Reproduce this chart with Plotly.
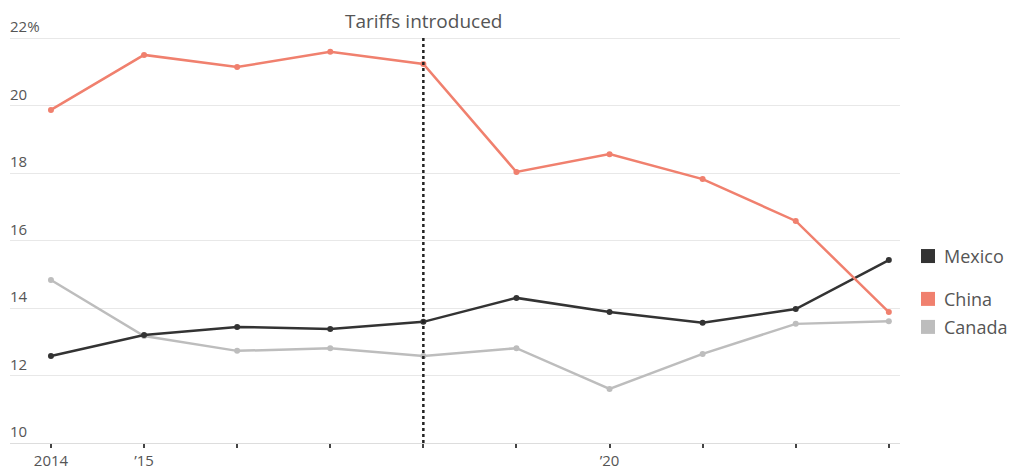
import plotly.graph_objects as go

years = [2014, 2015, 2016, 2017, 2018, 2019, 2020, 2021, 2022, 2023]
china = [19.87, 21.5, 21.14, 21.59, 21.23, 18.03, 18.56, 17.82, 16.58, 13.88]
mexico = [12.58, 13.2, 13.44, 13.38, 13.59, 14.3, 13.88, 13.56, 13.97, 15.42]
canada = [14.83, 13.17, 12.73, 12.81, 12.58, 12.81, 11.6, 12.64, 13.53, 13.61]
x_ticktext = ["2014", "’15", "", "", "", "", "’20", "", "", ""]
y_tickvals = [10, 12, 14, 16, 18, 20, 22]
y_ticktext = ["10", "12", "14", "16", "18", "20", "22%"]
tariff_year = 2018
tariff_label = "Tariffs introduced"

series = [
    ("Canada", canada, "#bdbdbd"),
    ("Mexico", mexico, "#333333"),
    ("China", china, "#f0806e"),
]
legend_items = [("Mexico", "#333333", 15.54), ("China", "#f0806e", 14.27), ("Canada", "#bdbdbd", 13.44)]

FONT = "Open Sans, Noto Sans, sans-serif"
TXT = "#555555"
# page body has an 8px margin; figure occupies 8..1017 x 8..476
OFF = 8
W, H = 1017 - OFF, 476 - OFF
ML, MR, MT, MB = 10 - OFF, 117, 35 - OFF, 33
plot_w = W - ML - MR
y_range = [10, 22.09]
px_per_unit = (H - MT - MB) / (y_range[1] - y_range[0])


def page_x_to_paper(px):
    return (px - OFF - ML) / plot_w


fig = go.Figure()
for name, vals, col in series:
    fig.add_trace(go.Scatter(
        x=years, y=vals, name=name, mode="lines+markers",
        line=dict(color=col, width=2.5),
        marker=dict(color=col, size=6),
        showlegend=False, cliponaxis=False,
    ))

fig.add_shape(type="line", xref="x", yref="paper", x0=tariff_year, x1=tariff_year,
              y0=0, y1=1.0, line=dict(color="#222222", width=2.5, dash="dot"))
fig.add_annotation(x=tariff_year, xref="x", y=1.0, yref="paper", yanchor="bottom",
                   yshift=0, borderpad=0, text=tariff_label, showarrow=False,
                   font=dict(family=FONT, size=19, color=TXT))

# y labels above gridlines
for v, t in zip(y_tickvals, y_ticktext):
    fig.add_annotation(x=0, xref="paper", xanchor="left", xshift=-2, y=v, yref="y",
                       yanchor="bottom", yshift=0, text=t, showarrow=False,
                       font=dict(family=FONT, size=15, color=TXT))

# legend
sq = 14
for name, col, yv in legend_items:
    half = sq / 2 / px_per_unit
    fig.add_shape(type="rect", xref="paper", yref="y",
                  x0=page_x_to_paper(921), x1=page_x_to_paper(921 + sq),
                  y0=yv - half, y1=yv + half, fillcolor=col, line=dict(width=0))
    fig.add_annotation(x=page_x_to_paper(943), xref="paper", xanchor="left", y=yv, yref="y",
                       borderpad=0, text=name, showarrow=False,
                       font=dict(family=FONT, size=18, color=TXT))

fig.update_layout(
    width=W, height=H,
    margin=dict(l=ML, r=MR, t=MT, b=MB),
    paper_bgcolor="white", plot_bgcolor="white",
    font=dict(family=FONT, color=TXT),
    xaxis=dict(range=[2013.56, 2023.12], tickvals=years, ticktext=x_ticktext,
               showgrid=False, showline=True, linecolor="#dddddd", linewidth=1,
               ticks="outside", ticklen=4, tickwidth=2, tickcolor="#444444",
               tickfont=dict(size=15, color=TXT), zeroline=False, automargin=False),
    yaxis=dict(range=y_range, tickvals=y_tickvals, showticklabels=False,
               showgrid=True, gridcolor="#e8e8e8", gridwidth=1,
               ticks="", zeroline=False, showline=False, automargin=False),
)

fig.write_html("out.html")
